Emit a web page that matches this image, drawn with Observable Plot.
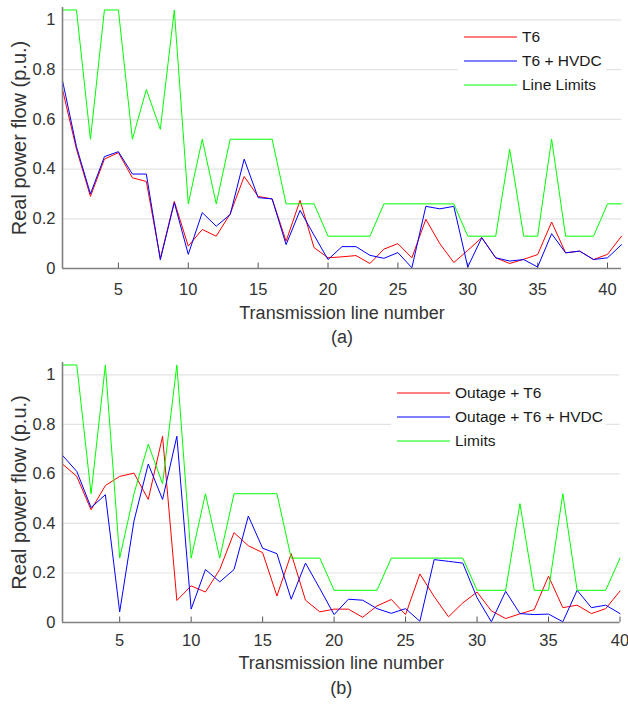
<!DOCTYPE html>
<html><head><meta charset="utf-8">
<script src="https://cdn.jsdelivr.net/npm/d3@7"></script>
<script src="https://cdn.jsdelivr.net/npm/@observablehq/plot@0.6"></script>
<style>
body{margin:0;background:#fff;font-family:"Liberation Sans",Arial,sans-serif;}
#wrap{position:relative;width:628px;height:711px;overflow:hidden;background:#fff;}
.panel{position:absolute;left:0;}
.legend{position:absolute;background:#fff;font-size:15.5px;color:#1a1a1a;}
.legend .row{position:absolute;left:0;height:20px;display:flex;align-items:center;white-space:nowrap;}
.legend svg{display:block;margin-left:6px;margin-right:5px;}
</style></head>
<body><div id="wrap"></div>
<script>
// ---- data ----
const lineNumbersA = d3.range(1, 42);
const lineNumbersB = d3.range(1, 41);
const xTickLabels = [5, 10, 15, 20, 25, 30, 35, 40];
const yTickLabels = [0, 0.2, 0.4, 0.6, 0.8, 1];

const seriesNamesA = ["T6", "T6 + HVDC", "Line Limits"];
const seriesNamesB = ["Outage + T6", "Outage + T6 + HVDC", "Limits"];
const seriesColors = ["#ff0000", "#0000ff", "#00ff00"];

const t6 = [0.72,0.48,0.29,0.44,0.466,0.365,0.35,0.04,0.27,0.09,0.157,0.13,0.22,0.37,0.29,0.28,0.11,0.274,0.084,0.043,0.047,0.052,0.02,0.078,0.10,0.043,0.198,0.10,0.024,0.073,0.124,0.043,0.02,0.037,0.056,0.187,0.063,0.07,0.036,0.057,0.13];
const t6Hvdc = [0.756,0.49,0.30,0.45,0.47,0.38,0.38,0.035,0.265,0.057,0.225,0.17,0.217,0.44,0.285,0.28,0.096,0.234,0.134,0.036,0.088,0.088,0.053,0.041,0.064,0.003,0.25,0.24,0.25,0.006,0.124,0.043,0.03,0.036,0.006,0.14,0.063,0.07,0.036,0.043,0.096];
const lineLimitsA = [1.04,1.04,0.52,1.04,1.04,0.52,0.72,0.56,1.04,0.26,0.52,0.26,0.52,0.52,0.52,0.52,0.26,0.26,0.26,0.13,0.13,0.13,0.13,0.26,0.26,0.26,0.26,0.26,0.26,0.13,0.13,0.13,0.48,0.13,0.13,0.52,0.13,0.13,0.13,0.26,0.26];

const outageT6 = [0.64,0.59,0.455,0.553,0.59,0.603,0.497,0.752,0.089,0.148,0.123,0.214,0.363,0.31,0.282,0.107,0.278,0.09,0.043,0.054,0.054,0.021,0.067,0.093,0.032,0.196,0.105,0.023,0.079,0.123,0.047,0.016,0.035,0.052,0.187,0.06,0.07,0.036,0.056,0.127];
const outageT6Hvdc = [0.675,0.61,0.464,0.516,0.043,0.41,0.64,0.497,0.752,0.054,0.214,0.164,0.214,0.43,0.30,0.278,0.094,0.24,0.137,0.032,0.094,0.09,0.056,0.037,0.056,0.005,0.254,0.247,0.24,0.10,0.003,0.126,0.036,0.032,0.034,0.003,0.13,0.06,0.07,0.036];
const limitsB = [1.04,1.04,0.52,1.04,0.26,0.52,0.72,0.56,1.04,0.26,0.52,0.26,0.52,0.52,0.52,0.52,0.26,0.26,0.26,0.13,0.13,0.13,0.13,0.26,0.26,0.26,0.26,0.26,0.26,0.13,0.13,0.13,0.48,0.13,0.13,0.52,0.13,0.13,0.13,0.26];

const yLabel = "Real power flow (p.u.)";
const xLabel = "Transmission line number";

function panel(cfg) {
  const {xs, series, height, marginTop, marginBottom, marginRight, tickPad, labelDy, caption, captionDy} = cfg;
  const axisColor = "#808080";
  const marks = [
    Plot.gridY(yTickLabels, {stroke: "#e3e3e3", strokeOpacity: 1, strokeWidth: 1.2}),
    Plot.axisY(yTickLabels, {tickSize: 0, tickPadding: 7, tickFormat: d => String(d), fontSize: 16.5, fill: "#333", label: null}),
    Plot.axisX(xTickLabels, {tickSize: 0, tickPadding: tickPad, fontSize: 16.5, fill: "#333", label: null}),
    Plot.ruleX(xTickLabels, {x: d => d, y1: 0, y2: 0.022, stroke: "#555", strokeWidth: 1})
  ];
  series.forEach((vals, k) => {
    marks.push(Plot.lineY(vals, {x: (d, i) => xs[i], y: d => d, stroke: seriesColors[k], strokeWidth: 1}));
  });
  marks.push(
    Plot.ruleY([0], {stroke: axisColor, strokeWidth: 1.6}),
    Plot.ruleX([xs[0]], {stroke: axisColor, strokeWidth: 1.6}),
    Plot.text([yLabel], {text: d => d, frameAnchor: "left", textAnchor: "middle", lineAnchor: "middle", rotate: -90, dx: -42.5, fontSize: 20, fill: "#333"}),
    Plot.text([xLabel], {text: d => d, frameAnchor: "bottom", textAnchor: "middle", lineAnchor: "middle", dy: labelDy, fontSize: 18, fill: "#333"}),
    Plot.text([caption], {text: d => d, frameAnchor: "bottom", textAnchor: "middle", lineAnchor: "middle", dy: captionDy, fontSize: 18, fill: "#333"})
  );
  return Plot.plot({
    width: 628, height, marginTop, marginBottom, marginLeft: 62, marginRight,
    x: {domain: [xs[0], xs[xs.length - 1]]},
    y: {domain: [0, 1.05]},
    style: {fontFamily: "'Liberation Sans', Arial, sans-serif", background: "white", overflow: "visible"},
    marks
  });
}

function legend(names, left, top, width, height) {
  const div = document.createElement("div");
  div.className = "legend";
  Object.assign(div.style, {left: left + "px", top: top + "px", width: width + "px", height: height + "px"});
  names.forEach((n, k) => {
    const row = document.createElement("div");
    row.className = "row";
    row.style.top = (5 + 24 * k) + "px";
    const svg = d3.create("svg").attr("width", 53).attr("height", 4);
    svg.append("line").attr("x1", 0).attr("x2", 53).attr("y1", 2).attr("y2", 2)
      .attr("stroke", seriesColors[k]).attr("stroke-width", 1.2);
    const tx = document.createElement("span");
    tx.textContent = n;
    row.append(svg.node(), tx);
    div.append(row);
  });
  return div;
}

const wrap = document.getElementById("wrap");
const pA = panel({xs: lineNumbersA, series: [t6, t6Hvdc, lineLimitsA], height: 350, marginTop: 7, marginBottom: 82, marginRight: 7, tickPad: 15, labelDy: 45, caption: "(a)", captionDy: 69});
pA.classList.add("panel"); pA.style.top = "0px";
const pB = panel({xs: lineNumbersB, series: [outageT6, outageT6Hvdc, limitsB], height: 361, marginTop: 12, marginBottom: 89, marginRight: 8.5, tickPad: 12, labelDy: 41, caption: "(b)", captionDy: 66});
pB.classList.add("panel"); pB.style.top = "350px";
wrap.append(pA, pB);
wrap.append(legend(seriesNamesA, 458, 22, 148, 80));
wrap.append(legend(seriesNamesB, 391, 378, 215, 78));
</script></body></html>
